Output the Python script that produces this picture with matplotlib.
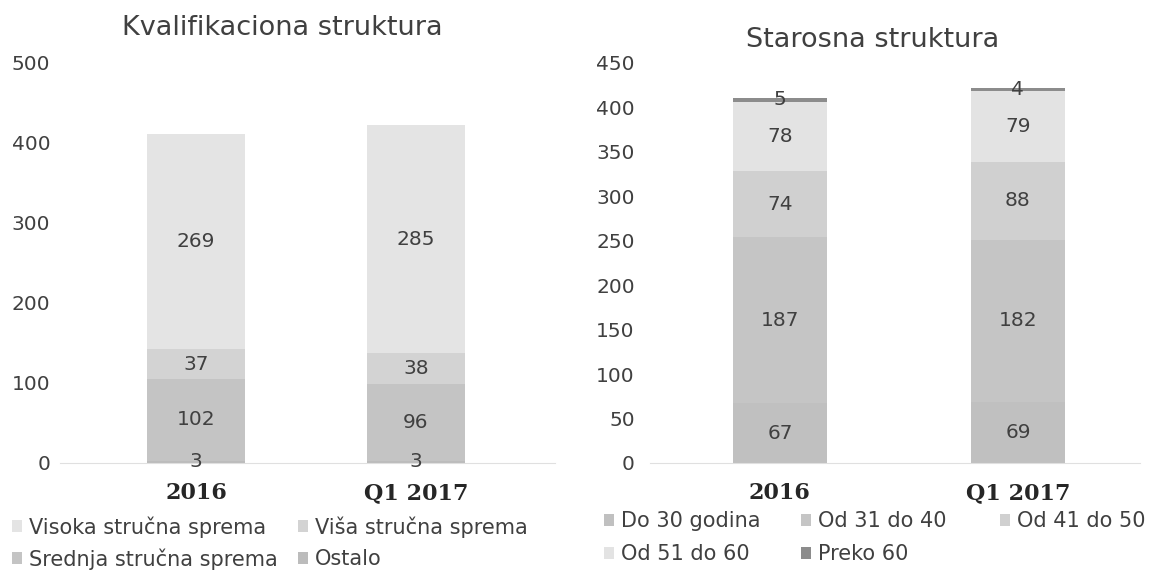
import matplotlib
matplotlib.use("Agg")
import matplotlib.pyplot as plt
import numpy as np

# ---- data ----
categories = ["2016", "Q1 2017"]

qual_series = ["Ostalo", "Srednja stručna sprema", "Viša stručna sprema", "Visoka stručna sprema"]
qual_ostalo = [3, 3]
qual_srednja = [102, 96]
qual_visa = [37, 38]
qual_visoka = [269, 285]

age_series = ["Do 30 godina", "Od 31 do 40", "Od 41 do 50", "Od 51 do 60", "Preko 60"]
age_do30 = [67, 69]
age_31_40 = [187, 182]
age_41_50 = [74, 88]
age_51_60 = [78, 79]
age_preko60 = [5, 4]

left_ticks = [0, 100, 200, 300, 400, 500]
right_ticks = list(range(0, 451, 50))

# ---- style ----
W, H = 1155, 579
fig = plt.figure(figsize=(W / 100, H / 100), dpi=100)
plt.rcParams['font.family'] = ['DejaVu Sans']
txt = "#404040"
FS = 14.5
LFS = 15

def px_axes(x0, x1, y_top, y_bot):
    return fig.add_axes([x0 / W, 1 - y_bot / H, (x1 - x0) / W, (y_bot - y_top) / H])

def legend_entry(handle, label, xpx, ypx):
    leg = fig.legend([handle], [label], frameon=False, loc="center left",
                     bbox_to_anchor=(xpx / W, 1 - ypx / H), fontsize=LFS,
                     handlelength=0.5, handleheight=0.5, handletextpad=0.3,
                     labelcolor=txt, borderaxespad=0, borderpad=0)
    return leg

# ---- left chart ----
axL = px_axes(60, 555, 63, 463)
x = np.arange(len(categories))
bw = 0.445
qual_vals = [qual_ostalo, qual_srednja, qual_visa, qual_visoka]
qual_colors = ["#bcbcbc", "#c4c4c4", "#d3d3d3", "#e4e4e4"]
bottom = np.zeros(len(categories))
handlesL = {}
for name, vals, col in zip(qual_series, qual_vals, qual_colors):
    b = axL.bar(x, vals, bw, bottom=bottom, color=col, label=name, zorder=2)
    handlesL[name] = b
    for xi, v, bt in zip(x, vals, bottom):
        axL.text(xi, bt + v / 2, str(v), ha="center", va="center", fontsize=FS, color=txt, zorder=3)
    bottom = bottom + np.array(vals)
axL.set_ylim(0, 500)
axL.set_xlim(-0.618, 1.632)
axL.set_yticks(left_ticks)
axL.set_xticks(x)
axL.set_xticklabels(categories, fontsize=16, fontweight="bold", family="DejaVu Serif", color="#262626")
axL.tick_params(axis="y", labelsize=FS, labelcolor=txt, length=0, pad=7)
axL.tick_params(axis="x", length=0, pad=14)
for s in ["top", "right", "left"]:
    axL.spines[s].set_visible(False)
axL.spines["bottom"].set_color("#e0e0e0")
fig.text(282 / W, 1 - 28 / H, "Kvalifikaciona struktura", fontsize=19.5, color=txt,
         ha="center", va="center")

legL_pos = {"Visoka stručna sprema": (12, 527), "Viša stručna sprema": (298, 527),
            "Srednja stručna sprema": (12, 559), "Ostalo": (298, 559)}
for name, (lx, ly) in legL_pos.items():
    legend_entry(handlesL[name], name, lx, ly)

# ---- right chart ----
axR = px_axes(650, 1140, 63, 463)
bw2 = 0.395
age_vals = [age_do30, age_31_40, age_41_50, age_51_60, age_preko60]
age_colors = ["#c0c0c0", "#c5c5c5", "#d0d0d0", "#e3e3e3", "#8c8c8c"]
bottom = np.zeros(len(categories))
handlesR = {}
for name, vals, col in zip(age_series, age_vals, age_colors):
    b = axR.bar(x, vals, bw2, bottom=bottom, color=col, label=name, zorder=2)
    handlesR[name] = b
    for xi, v, bt in zip(x, vals, bottom):
        axR.text(xi, bt + v / 2, str(v), ha="center", va="center", fontsize=FS, color=txt, zorder=3)
    bottom = bottom + np.array(vals)
axR.set_ylim(0, 450)
axR.set_xlim(-0.546, 1.513)
axR.set_yticks(right_ticks)
axR.set_xticks(x)
axR.set_xticklabels(categories, fontsize=16, fontweight="bold", family="DejaVu Serif", color="#262626")
axR.tick_params(axis="y", labelsize=FS, labelcolor=txt, length=0, pad=11)
axR.tick_params(axis="x", length=0, pad=14)
for s in ["top", "right", "left"]:
    axR.spines[s].set_visible(False)
axR.spines["bottom"].set_color("#e0e0e0")
fig.text(873 / W, 1 - 40 / H, "Starosna struktura", fontsize=19.5, color=txt,
         ha="center", va="center")

legR_pos = {"Do 30 godina": (604, 521), "Od 31 do 40": (801, 521), "Od 41 do 50": (1000, 521),
            "Od 51 do 60": (604, 554), "Preko 60": (801, 554)}
for name, (lx, ly) in legR_pos.items():
    legend_entry(handlesR[name], name, lx, ly)

fig.savefig("out.png", dpi=100, facecolor="white")
